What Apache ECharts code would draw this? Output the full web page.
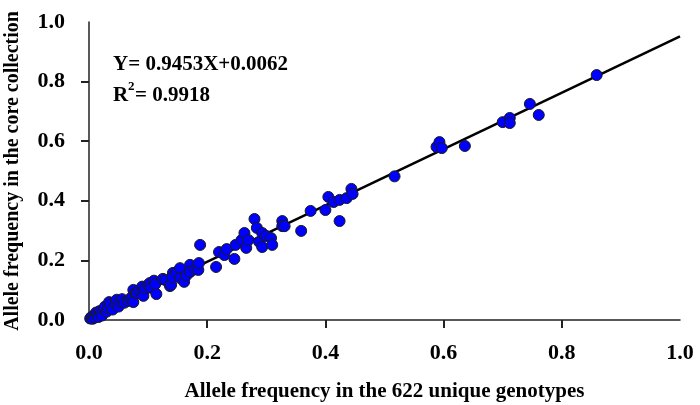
<!DOCTYPE html>
<html>
<head>
<meta charset="utf-8">
<script src="https://cdn.jsdelivr.net/npm/echarts@6/dist/echarts.min.js"></script>
<style>
  html, body { margin: 0; padding: 0; background: #fff; }
  #chart { width: 700px; height: 405px; }
</style>
</head>
<body>
<div id="chart"></div>
<script>
// allele frequency in the 622 unique genotypes
const freqUnique = [
  0.002, 0.004, 0.006, 0.008, 0.010, 0.012, 0.014, 0.016, 0.018, 0.020,
  0.022, 0.025, 0.027, 0.030, 0.032, 0.034, 0.036, 0.040, 0.045, 0.047,
  0.050, 0.052, 0.056, 0.060, 0.066, 0.070, 0.073, 0.075, 0.075, 0.079,
  0.081, 0.085, 0.090, 0.092, 0.092, 0.095, 0.100, 0.103, 0.105, 0.110,
  0.112, 0.114, 0.125, 0.129, 0.137, 0.139, 0.142, 0.141, 0.148, 0.154,
  0.154, 0.161, 0.165, 0.171, 0.171, 0.180, 0.185, 0.186, 0.188,
  0.215, 0.220, 0.229, 0.233, 0.246, 0.248, 0.258, 0.263, 0.266, 0.270,
  0.280, 0.284, 0.288, 0.293, 0.293, 0.300, 0.308, 0.310, 0.327, 0.327,
  0.331, 0.359, 0.375, 0.400, 0.405, 0.414, 0.424, 0.436, 0.444, 0.446,
  0.424, 0.517, 0.588, 0.593, 0.597, 0.636, 0.700, 0.712, 0.712, 0.746,
  0.761, 0.859
]
// allele frequency in the core collection
const freqCore = [
  0.005, 0.010, 0.004, 0.015, 0.008, 0.025, 0.018, 0.010, 0.030, 0.022,
  0.015, 0.035, 0.045, 0.028, 0.040, 0.060, 0.052, 0.035, 0.055, 0.068,
  0.045, 0.062, 0.070, 0.058, 0.064, 0.072, 0.077, 0.060, 0.101, 0.090,
  0.091, 0.100, 0.112, 0.097, 0.081, 0.106, 0.118, 0.124, 0.108, 0.132,
  0.120, 0.087, 0.138, 0.134, 0.114, 0.118, 0.158, 0.144, 0.160, 0.174,
  0.141, 0.128, 0.150, 0.185, 0.161, 0.170, 0.168, 0.191, 0.252,
  0.178, 0.228, 0.218, 0.238, 0.205, 0.252, 0.268, 0.292, 0.242, 0.268,
  0.339, 0.309, 0.262, 0.292, 0.245, 0.282, 0.275, 0.252, 0.332, 0.315,
  0.315, 0.299, 0.366, 0.369, 0.413, 0.396, 0.403, 0.409, 0.440, 0.423,
  0.332, 0.482, 0.581, 0.597, 0.577, 0.584, 0.664, 0.678, 0.661, 0.725,
  0.688, 0.822
]
const slope = 0.9453
const intercept = 0.0062
const fitX = [0, 1]
const tickVals = [0.2, 0.4, 0.6, 0.8]

const chart = echarts.init(document.getElementById('chart'))
const font = '"Liberation Serif", "Times New Roman", serif'

const axisCommon = {
  type: 'value',
  min: 0,
  max: 1,
  interval: 0.2,
  nameLocation: 'middle',
  axisLine: { show: true, lineStyle: { color: '#222', width: 1.5 } },
  axisTick: { show: true, inside: false, length: 8, lineStyle: { color: '#222', width: 2 }, customValues: tickVals },
  axisLabel: {
    fontFamily: font, fontWeight: 'bold', fontSize: 22, color: '#000',
    formatter: v => v.toFixed(1)
  },
  splitLine: { show: false }
}

chart.setOption({
  animation: false,
  backgroundColor: '#fff',
  grid: { left: 89, right: 20, top: 22, bottom: 85, containLabel: false, outerBoundsMode: 'none' },
  xAxis: Object.assign({}, axisCommon, {
    name: 'Allele frequency in the 622 unique genotypes',
    nameGap: 61,
    nameTextStyle: { fontFamily: font, fontWeight: 'bold', fontSize: 21, color: '#000' },
    axisLabel: Object.assign({}, axisCommon.axisLabel, { margin: 22 })
  }),
  yAxis: Object.assign({}, axisCommon, {
    name: 'Allele frequency in the core collection',
    nameGap: 66,
    nameTextStyle: { fontFamily: font, fontWeight: 'bold', fontSize: 20, color: '#000' },
    axisLabel: Object.assign({}, axisCommon.axisLabel, { margin: 24 })
  }),
  graphic: [
    {
      type: 'text', left: 113, top: 54,
      style: { text: 'Y= 0.9453X+0.0062', font: 'bold 21px ' + font, fill: '#000' }
    },
    {
      type: 'text', left: 113, top: 85,
      style: { text: 'R', font: 'bold 21px ' + font, fill: '#000' }
    },
    {
      type: 'text', left: 128, top: 80,
      style: { text: '2', font: 'bold 13px ' + font, fill: '#000' }
    },
    {
      type: 'text', left: 135, top: 85,
      style: { text: '= 0.9918', font: 'bold 21px ' + font, fill: '#000' }
    }
  ],
  series: [
    {
      type: 'line',
      data: fitX.map(x => [x, slope * x + intercept]),
      showSymbol: false,
      lineStyle: { color: '#000', width: 2.5 },
      z: 1
    },
    {
      type: 'scatter',
      data: freqUnique.map((x, i) => [x, freqCore[i]]),
      symbolSize: 11,
      itemStyle: { color: '#0000ff', borderColor: '#1a1a1a', borderWidth: 1, opacity: 1 },
      z: 2
    }
  ]
})
</script>
</body>
</html>
